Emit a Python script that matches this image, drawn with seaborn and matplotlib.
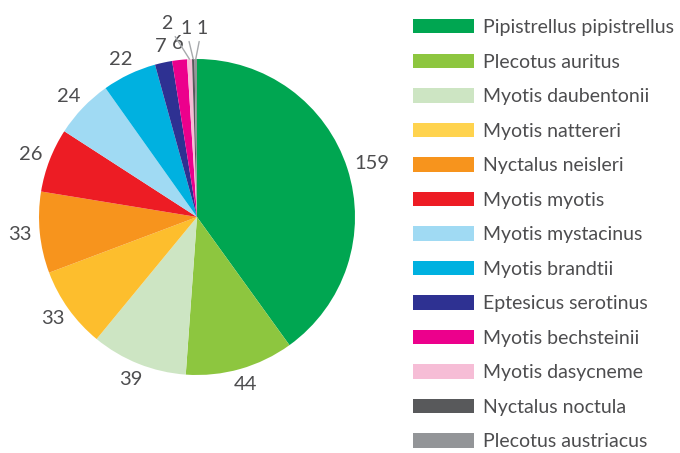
import numpy as np
import matplotlib
matplotlib.use("Agg")
import matplotlib.pyplot as plt
from matplotlib.patches import Patch
import seaborn as sns

sns.set_theme(style="white")
plt.rcParams['font.family'] = ['Lato', 'DejaVu Sans']

# data
species = ["Pipistrellus pipistrellus", "Plecotus auritus", "Myotis daubentonii",
           "Myotis nattereri", "Nyctalus neisleri", "Myotis myotis",
           "Myotis mystacinus", "Myotis brandtii", "Eptesicus serotinus",
           "Myotis bechsteinii", "Myotis dasycneme", "Nyctalus noctula",
           "Plecotus austriacus"]
counts = [159, 44, 39, 33, 33, 26, 24, 22, 7, 6, 2, 1, 1]
colors = ["#00A651", "#8DC63F", "#CDE5C3", "#FDBE2D", "#F7941D", "#ED1C24",
          "#A0DAF3", "#00B1E0", "#2E3192", "#EC008C", "#F6BDD6", "#58595B",
          "#939598"]
legend_colors = colors.copy()
legend_colors[3] = "#FFD34E"

text_color = "#4D4D4F"
small_cut = 2  # values this small get a leader line
# label spots for the tiny slices (data units, radius = 1)
small_xy = [(-0.19, 1.17), (-0.07, 1.14), (0.03, 1.14)]
gap_px = 8  # gap between pie edge and label box

fig = plt.figure(figsize=(6.8, 4.53), dpi=100)
ax = fig.add_axes([39 / 680, 78 / 453, 316 / 680, 316 / 453])

wedges, _ = ax.pie(counts, colors=colors, startangle=90, counterclock=False,
                   wedgeprops=dict(linewidth=0))
ax.set_xlim(-1, 1)
ax.set_ylim(-1, 1)
ax.set_aspect("equal")
ax.axis("off")

renderer = fig.canvas.get_renderer()
small = [i for i, c in enumerate(counts) if c <= small_cut]
for i, (w, c) in enumerate(zip(wedges, counts)):
    ang = np.deg2rad((w.theta1 + w.theta2) / 2)
    edge = (np.cos(ang), np.sin(ang))
    if c <= small_cut:
        pos = small_xy[small.index(i)]
        ax.annotate(str(c), xy=edge, xytext=pos, ha="center", va="bottom",
                    color=text_color, fontsize=14,
                    arrowprops=dict(arrowstyle="-", color="#A7A9AC", lw=1,
                                    shrinkA=1, shrinkB=0))
        continue
    t = ax.annotate(str(c), xy=edge, xytext=(0, 0), textcoords="offset pixels",
                    ha="center", va="center", color=text_color, fontsize=14.5)
    bb = t.get_window_extent(renderer)
    dx = gap_px * np.cos(ang) + bb.width / 2 * np.cos(ang)
    dy = gap_px * np.sin(ang) + bb.height / 2 * np.sin(ang)
    t.xyann = (dx, dy)

handles = [Patch(facecolor=c, edgecolor="none") for c in legend_colors]
fig.legend(handles, species, loc="upper left", bbox_to_anchor=(413 / 680, 1 - 19 / 453),
           frameon=False, fontsize=14, labelcolor=text_color,
           borderpad=0, borderaxespad=0,
           handlelength=3.14, handleheight=0.77, handletextpad=0.46, labelspacing=0.9)

fig.savefig("out.png", dpi=100)
